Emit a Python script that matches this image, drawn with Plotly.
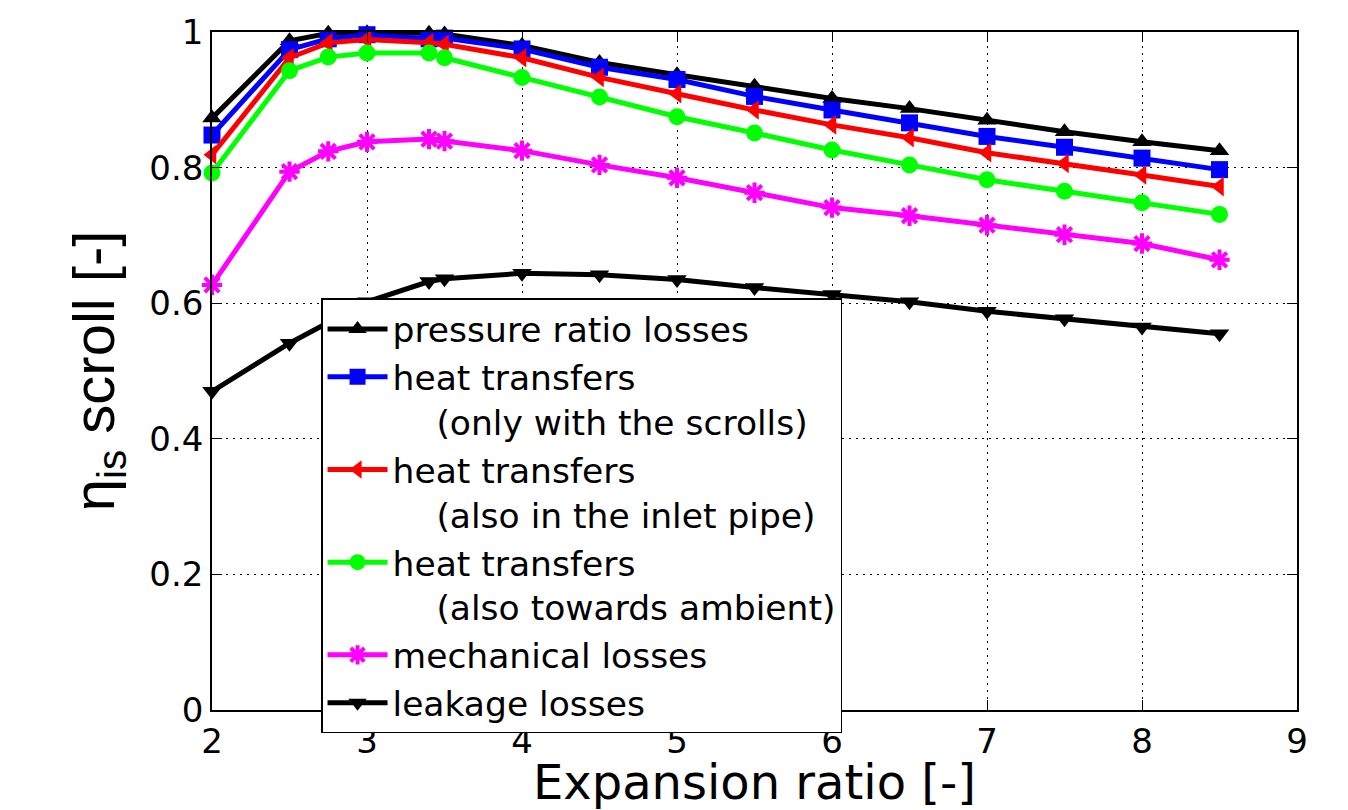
import plotly.graph_objects as go

# ---- data ----
x_main = [2, 2.5, 2.75, 3, 3.4, 3.5, 4, 4.5, 5, 5.5, 6, 6.5, 7, 7.5, 8, 8.5]
pressure_ratio = [0.873, 0.987, 0.998, 0.999, 0.998, 0.997, 0.980, 0.955, 0.937, 0.920, 0.902, 0.887, 0.870, 0.853, 0.838, 0.825]
heat_scrolls = [0.848, 0.974, 0.990, 0.996, 0.990, 0.991, 0.975, 0.948, 0.930, 0.905, 0.885, 0.866, 0.846, 0.830, 0.814, 0.797]
heat_inlet = [0.819, 0.962, 0.984, 0.989, 0.984, 0.982, 0.962, 0.933, 0.909, 0.885, 0.863, 0.844, 0.822, 0.806, 0.789, 0.772]
heat_ambient = [0.792, 0.943, 0.963, 0.969, 0.969, 0.962, 0.933, 0.904, 0.875, 0.851, 0.826, 0.804, 0.782, 0.765, 0.748, 0.731]
mechanical = [0.627, 0.794, 0.824, 0.838, 0.842, 0.839, 0.825, 0.804, 0.785, 0.763, 0.741, 0.729, 0.715, 0.701, 0.688, 0.664]
x_leak = [2, 2.5, 3, 3.4, 3.5, 4, 4.5, 5, 5.5, 6, 6.5, 7, 7.5, 8, 8.5]
leakage = [0.470, 0.541, 0.602, 0.632, 0.636, 0.644, 0.642, 0.635, 0.623, 0.613, 0.602, 0.588, 0.577, 0.565, 0.555]

IND = "\u00a0" * 4
names = [
    "pressure ratio losses",
    "heat transfers<br>" + IND + "(only with the scrolls)",
    "heat transfers<br>" + IND + "(also in the inlet pipe)",
    "heat transfers<br>" + IND + "(also towards ambient)",
    "mechanical losses",
    "leakage losses",
]
x_tick_vals = [2, 3, 4, 5, 6, 7, 8, 9]
y_tick_vals = [0, 0.2, 0.4, 0.6, 0.8, 1]
y_tick_text = ["0", "0.2", "0.4", "0.6", "0.8", "1"]

series = [
    (x_main, pressure_ratio, "#000000", "triangle-up"),
    (x_main, heat_scrolls, "#0000ff", "square"),
    (x_main, heat_inlet, "#ff0000", "triangle-left"),
    (x_main, heat_ambient, "#00ff00", "circle"),
    (x_main, mechanical, "#ff00ff", "asterisk"),
    (x_leak, leakage, "#000000", "triangle-down"),
]

FONT = "DejaVu Sans, sans-serif"
FONT_Y = "Liberation Sans, Arial, sans-serif"
fig = go.Figure()
for (xs, ys, col, sym), nm in zip(series, names):
    fig.add_trace(go.Scatter(
        x=xs, y=ys, name=nm, mode="lines+markers",
        line=dict(color=col, width=5),
        marker=dict(symbol=sym, size=17, color=col,
                    line=dict(color=col, width=4 if sym == "asterisk" else 0)),
        cliponaxis=False,
    ))

fig.update_layout(
    width=1348, height=810,
    paper_bgcolor="white", plot_bgcolor="white",
    margin=dict(l=212, r=51, t=26, b=100),
    font=dict(family=FONT, color="black"),
    showlegend=True,
    legend=dict(
        x=0.1005, y=0.607, xanchor="left", yanchor="top",
        bgcolor="white", bordercolor="black", borderwidth=1.5,
        font=dict(family=FONT, size=34.5, color="black"),
        valign="top", itemwidth=60, tracegroupgap=0,
    ),
)
fig.update_xaxes(
    range=[2, 9], tickvals=x_tick_vals, ticktext=[str(v) for v in x_tick_vals],
    showline=True, linecolor="black", linewidth=1.5, mirror="ticks",
    ticks="inside", ticklen=10, tickcolor="black",
    showgrid=True, gridcolor="black", gridwidth=1, griddash="2px,5px",
    zeroline=False, tickfont=dict(size=34, color="black"),
    title=dict(text="Expansion ratio [-]", font=dict(size=48, color="black"), standoff=0),
)
fig.update_yaxes(
    range=[0, 1], tickvals=y_tick_vals, ticktext=y_tick_text,
    showline=True, linecolor="black", linewidth=1.5, mirror="ticks",
    ticks="inside", ticklen=10, tickcolor="black",
    showgrid=True, gridcolor="black", gridwidth=1, griddash="2px,5px",
    zeroline=False, tickfont=dict(size=34, color="black"),
    title=dict(text="η<sub>is</sub> scroll [-]", font=dict(family=FONT_Y, size=58, color="black"), standoff=16),
)

fig.write_html("out.html")
